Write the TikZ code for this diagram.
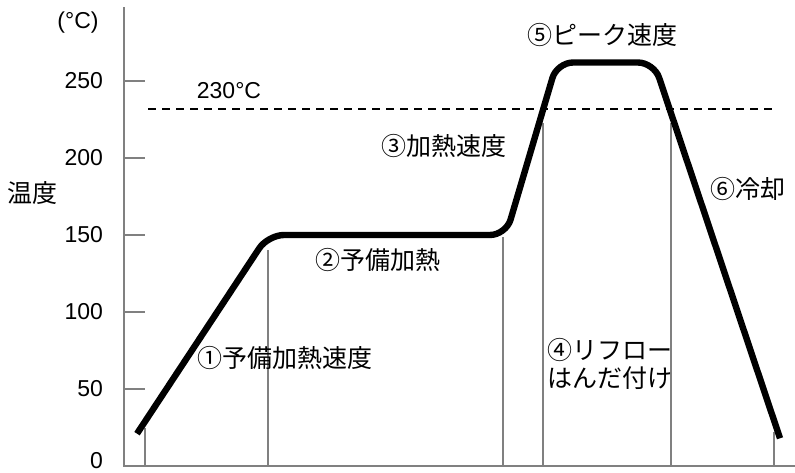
\documentclass[tikz,border=0pt]{standalone}
\usepackage{fontspec}
\setmainfont{Liberation Sans}
\newfontfamily\jpfont{Noto Sans CJK JP}
\usepackage{tikz}

\begin{document}
\begin{tikzpicture}[x=0.5pt, y=0.77pt,
    axis/.style={draw=gray, line width=1pt},
    guide/.style={draw=gray, line width=1pt},
    profile/.style={draw=black, line width=3.2pt, rounded corners=8pt},
    jp/.style={font=\jpfont\fontsize{12.5}{14}\selectfont},
    num/.style={font=\fontsize{11.5}{13}\selectfont}]
    \useasboundingbox (-124,-3.9) rectangle (671,302.6);
    % axes
    \draw[axis] (0,298) -- (0,0) -- (671,0);
    \foreach \t in {0,50,...,250} {
        \draw[axis] (0,\t) -- (21,\t);
        \node[num, anchor=east] (tick\t) at (-14,{max(\t,3.5)}) {\t};
    }
    \node[num] (unit) at (-46,288) {(°C)};
    \node[jp] (ylabel) at (-91,177) {温度};
    % guide lines
    \draw[guide] (21,0) -- (21,25);
    \draw[guide] (144,0) -- (144,140);
    \draw[guide] (379,0) -- (379,149);
    \draw[guide] (419,0) -- (419,223);
    \draw[guide] (547,0) -- (547,223);
    \draw[guide] (650,0) -- (650,22);
    % 230 line
    \draw[line width=1pt, dash pattern=on 4pt off 3pt] (24,232) -- (652,232);
    \node[num] (limit) at (105,244) {230°C};
    % profile
    \draw[profile] (13,21) -- (144,150) -- (382,150) -- (433,262)
        -- (530,262) -- (656,18);
    \node[jp] (stage1) at (161,70) {①予備加熱速度};
    \node[jp] (stage2) at (254,134) {②予備加熱};
    \node[jp] (stage3) at (320,208) {③加熱速度};
    \node[jp, align=left, anchor=west, inner sep=0pt] (stage4) at (423,66) {④リフロー\\はんだ付け};
    \node[jp] (stage5) at (478,280) {⑤ピーク速度};
    \node[jp] (stage6) at (624,180) {⑥冷却};
\end{tikzpicture}
\end{document}
